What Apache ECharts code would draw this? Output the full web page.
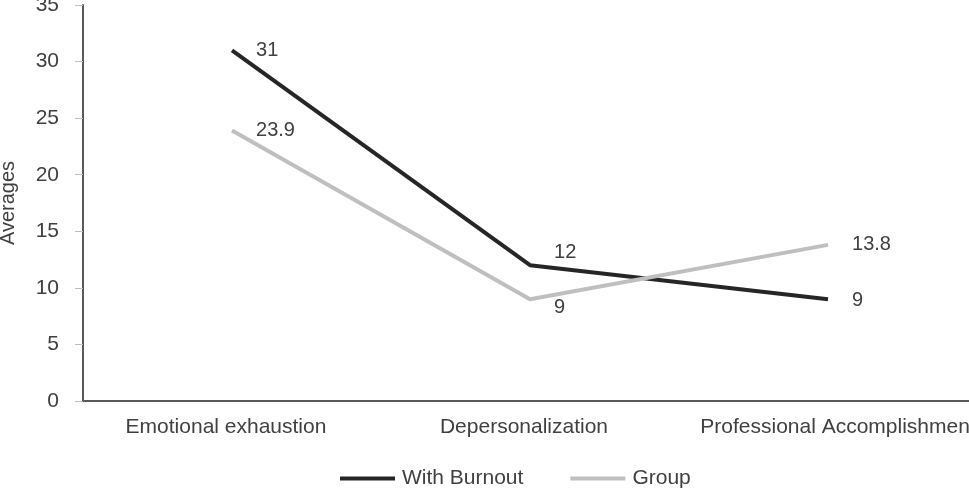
<!DOCTYPE html>
<html>
<head>
<meta charset="utf-8">
<script src="https://cdn.jsdelivr.net/npm/echarts@6/dist/echarts.min.js"></script>
<style>
  html, body { margin: 0; padding: 0; background: #fff; }
  #chart { width: 969px; height: 490px; }
</style>
</head>
<body>
<div id="chart"></div>
<script>
var categories = ['Emotional exhaustion', 'Depersonalization', 'Professional Accomplishment'];
var burnoutValues = [31, 12, 9];
var groupValues = [23.9, 9, 13.8];
// label nudges
var burnoutOffsets = [[0, 0], [0, -13], [0, 1]];
var groupOffsets = [[0, 0], [0, 8], [0, 0]];

var myChart = echarts.init(document.getElementById('chart'));

function buildData(values, offsets) {
    return values.map(function(v, i) {
        return { value: v, label: { offset: offsets[i] } };
    });
}

var option = {
    backgroundColor: '#fff',
    animation: false,
    textStyle: { fontFamily: 'Liberation Sans, Arial, sans-serif' },
    grid: { left: 83, top: 5, bottom: 89, width: 894, containLabel: false, outerBoundsMode: 'none' },
    legend: {
        top: 463,
        left: 335,
        itemWidth: 55,
        itemHeight: 4,
        itemGap: 47,
        icon: 'rect',
        textStyle: { color: '#404040', fontSize: 21, padding: [0, 0, 0, 2] },
        data: ['With Burnout', 'Group']
    },
    xAxis: {
        type: 'category',
        data: categories,
        boundaryGap: true,
        axisLine: { lineStyle: { color: '#595959', width: 2 } },
        axisTick: { show: false },
        axisLabel: {
            color: '#404040', fontSize: 21, margin: 16, interval: 0, hideOverlap: false,
            formatter: function(value, idx) {
                // the last label runs off the right edge in the original
                return idx === categories.length - 1 ? '{last|' + value + '}' : '{std|' + value + '}';
            },
            rich: {
                std: { color: '#404040', fontSize: 21, padding: [0, 12, 0, 0] },
                last: { color: '#404040', fontSize: 21, padding: [0, 0, 0, 20] }
            }
        }
    },
    yAxis: {
        type: 'value',
        min: 0,
        max: 35,
        interval: 5,
        name: 'Averages',
        nameLocation: 'middle',
        nameGap: 65,
        nameTextStyle: { color: '#404040', fontSize: 20 },
        axisLine: { show: true, lineStyle: { color: '#595959', width: 2 } },
        axisTick: { show: true, length: 8, lineStyle: { color: '#bfbfbf' } },
        axisLabel: { color: '#404040', fontSize: 21, margin: 24 },
        splitLine: { show: false }
    },
    series: [{
        name: 'With Burnout',
        type: 'line',
        data: buildData(burnoutValues, burnoutOffsets),
        symbol: 'circle',
        symbolSize: 0.1,
        color: '#262626',
        lineStyle: { width: 4, color: '#262626' },
        label: { show: true, position: 'right', distance: 24, color: '#404040', fontSize: 20 }
    }, {
        name: 'Group',
        type: 'line',
        data: buildData(groupValues, groupOffsets),
        symbol: 'circle',
        symbolSize: 0.1,
        color: '#bfbfbf',
        lineStyle: { width: 4, color: '#bfbfbf' },
        label: { show: true, position: 'right', distance: 24, color: '#404040', fontSize: 20 }
    }]
};

myChart.setOption(option);
</script>
</body>
</html>
